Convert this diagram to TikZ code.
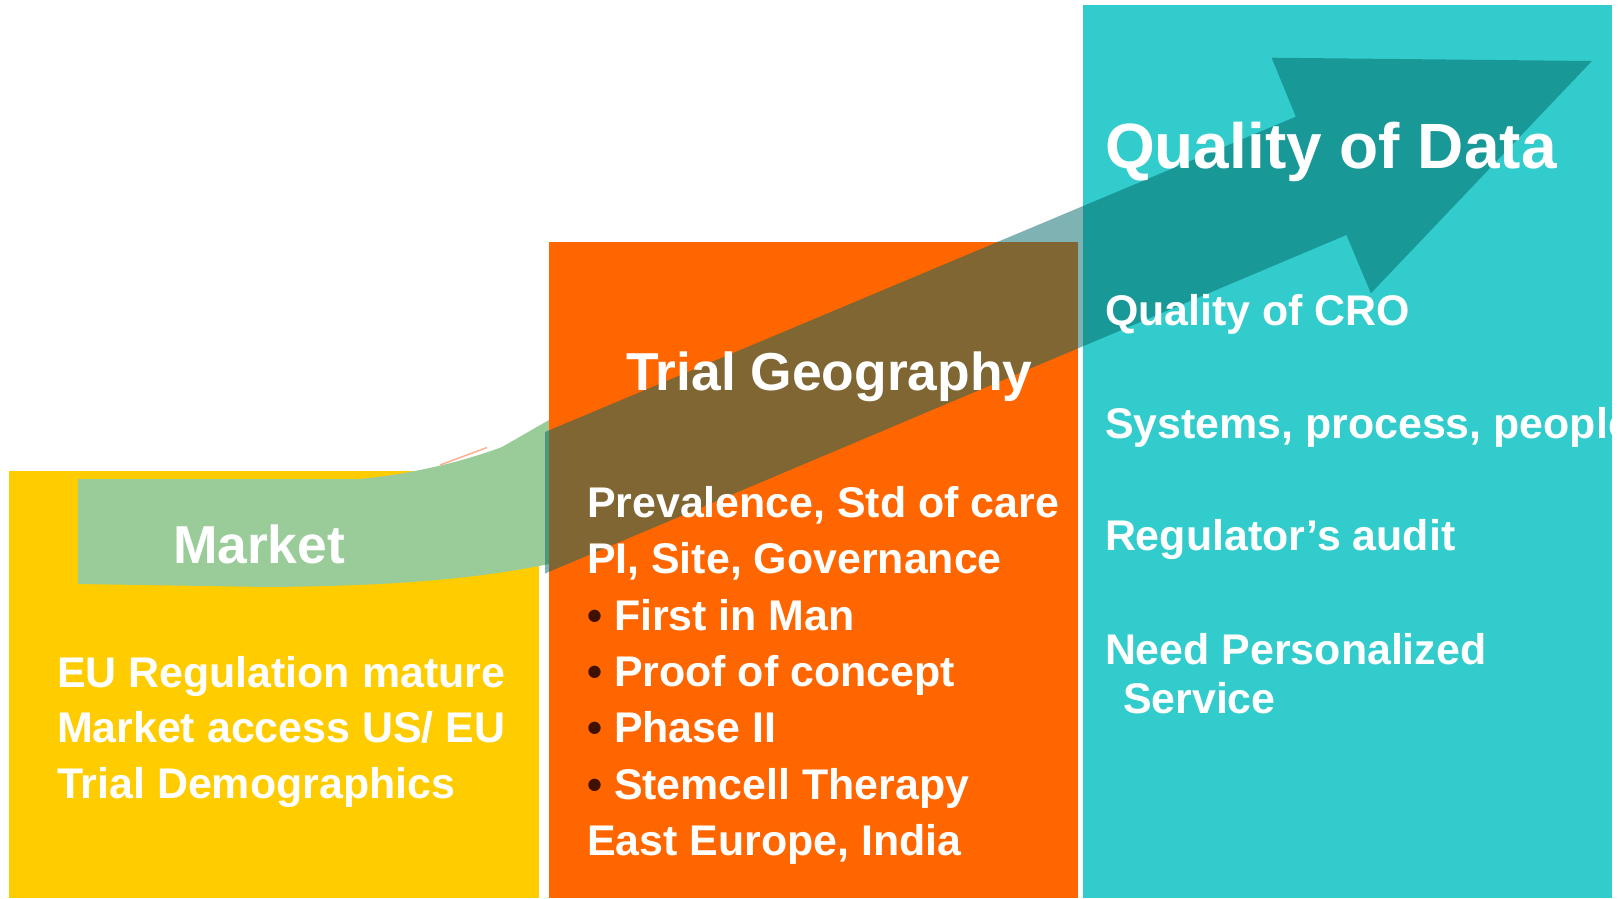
\documentclass[tikz,border=0pt]{standalone}
\usepackage{fontspec}
\setmainfont{Liberation Sans}
\definecolor{yel}{HTML}{FFCC00}
\definecolor{ora}{HTML}{FF6600}
\definecolor{cya}{HTML}{33CCCC}
\definecolor{grn}{HTML}{99CC99}
\definecolor{teal6}{HTML}{006666}
\definecolor{bulc}{HTML}{401000}
\definecolor{pinkl}{HTML}{FFB090}
\newcommand\fsz[1]{\fontsize{#1}{#1}\selectfont\bfseries}
\begin{document}
\begin{tikzpicture}[x=1pt,y=-1pt,
  txt/.style={anchor=base west, inner sep=0pt, outer sep=0pt, text=white},
  body/.style={txt, font=\fsz{42.9}},
  bigt/.style={txt, font=\fsz{53.4}},
  blt/.style={body}]
\useasboundingbox (0,0) rectangle (1620,898);
\fill[white] (0,0) rectangle (1620,898);
% boxes
\fill[yel] (9,471) rectangle (539,898);
% green tail of the arrow
\fill[grn] (78,479) -- (360,479) .. controls (420,473) and (470,459) .. (502,447)
  -- (549,420) -- (549,564) .. controls (480,578) and (400,586) .. (268,587)
  -- (78,584) -- cycle;
\draw[pinkl, line width=1.5pt] (440,465) -- (487,447.5);
\fill[ora] (549,242) rectangle (1078,898);
\fill[cya] (1083,5) rectangle (1612,898);
% translucent arrow
\fill[teal6, fill opacity=0.5] (545,432) -- (1295.8,116.7) -- (1271.6,57.7)
  -- (1591.9,61) -- (1370.9,293.3) -- (1346.4,235) -- (545,573.5) -- cycle;
% yellow texts
\node[bigt] (market) at (173,563) {Market};
\node[body] (y1) at (57,687) {EU Regulation mature};
\node[body] (y2) at (57,742.5) {Market access US/ EU};
\node[body] (y3) at (57,798) {Trial Demographics};
% orange texts
\node[bigt] (geo) at (626,390.7) {Trial Geography};
\node[body] (o1) at (587,517) {Prevalence, Std of care};
\node[body] (o2) at (587,573) {PI, Site, Governance};
\node[blt] (o3) at (587,630) {\makebox[27pt][l]{\color{bulc}•}First in Man};
\node[blt] (o4) at (587,686.5) {\makebox[27pt][l]{\color{bulc}•}Proof of concept};
\node[blt] (o5) at (587,742.5) {\makebox[27pt][l]{\color{bulc}•}Phase II};
\node[blt] (o6) at (587,799) {\makebox[27pt][l]{\color{bulc}•}Stemcell Therapy};
\node[body] (o7) at (587,855) {East Europe, India};
% cyan texts
\begin{scope}
\clip (1083,5) rectangle (1612,898);
\node[txt, font=\fsz{64}] (qd) at (1105,168) {Quality of Data};
\node[body] (c1) at (1105,325) {Quality of CRO};
\node[body] (c2) at (1105,438.3) {Systems, process, people};
\node[body] (c3) at (1105,550.7) {Regulator’s audit};
\node[body] (c4) at (1105,664) {Need Personalized};
\node[body] (c5) at (1123,713.3) {Service};
\end{scope}
\end{tikzpicture}
\end{document}
